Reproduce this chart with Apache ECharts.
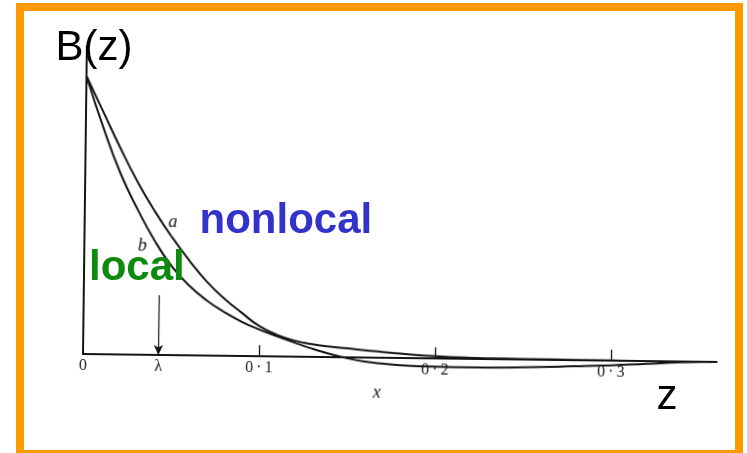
<!DOCTYPE html>
<html>
<head>
<meta charset="utf-8">
<script src="https://cdn.jsdelivr.net/npm/echarts@6/dist/echarts.min.js"></script>
<style>
  html, body { margin: 0; padding: 0; background: #ffffff; }
  #stage { position: relative; width: 747px; height: 453px; overflow: hidden; }
  #plot, #over { position: absolute; left: 0; top: 0; width: 747px; height: 453px; }
  /* the scanned figure sits very slightly tilted */
  #plot { transform-origin: 83px 354px; transform: rotate(0.72deg); }
  #over { pointer-events: none; }
</style>
</head>
<body>
<div id="stage">
  <div id="plot"></div>
  <div id="over"></div>
</div>
<script>
// sample positions along the axis
const xValues = [0, 0.01, 0.02, 0.03, 0.04, 0.05, 0.06, 0.07, 0.08, 0.09, 0.10, 0.11, 0.12,
                 0.13, 0.14, 0.15, 0.16, 0.17, 0.18, 0.20, 0.22, 0.25, 0.28, 0.30, 0.32, 0.34, 0.36];
// curve a (nonlocal)
const aValues = [1.0, 0.87, 0.74, 0.62, 0.515, 0.422, 0.339, 0.265, 0.205, 0.155, 0.108, 0.078, 0.058,
                 0.046, 0.038, 0.032, 0.026, 0.021, 0.016, 0.008, 0.004, 0.002, 0.001, 0.0006, 0.0003, 0.0001, 0];
// curve b (local)
const bValues = [1.0, 0.815, 0.652, 0.523, 0.41, 0.318, 0.25, 0.198, 0.157, 0.123, 0.096, 0.073, 0.051,
                 0.03, 0.012, -0.003, -0.014, -0.021, -0.026, -0.030, -0.031, -0.028, -0.022, -0.017, -0.010, -0.003, 0];
// axis tick labels
const tickValues = [0, 0.0428, 0.1, 0.2, 0.3];
const tickLabels = ['0', 'λ', '0\u2009·\u20091', '0\u2009·\u20092', '0\u2009·\u20093'];
const majorTicks = [0.1, 0.2, 0.3];
// position of the λ arrow
const lambdaX = 0.0428;
const lambdaArrowTop = 0.215;

const ink = '#141414';
const serif = '"Liberation Serif", "DejaVu Serif", serif';
const sans = '"Liberation Sans", Arial, sans-serif';

const pairs = vals => xValues.map((x, i) => [x, vals[i]]);

const plot = echarts.init(document.getElementById('plot'), null, { renderer: 'canvas' });
plot.setOption({
  animation: false,
  backgroundColor: 'transparent',
  grid: { left: 83, right: 30.4, top: 46, bottom: 99 },
  xAxis: {
    type: 'value', min: 0, max: 0.36,
    axisLine: { show: true, onZero: false, lineStyle: { color: ink, width: 2 } },
    axisTick: { show: true, inside: true, length: 11, customValues: majorTicks,
                lineStyle: { color: ink, width: 1.3 } },
    axisLabel: {
      show: true, margin: 4, customValues: tickValues,
      fontFamily: serif, fontSize: 16, color: '#1a1a1a',
      formatter: v => {
        let best = 0;
        tickValues.forEach((t, i) => { if (Math.abs(t - v) < Math.abs(tickValues[best] - v)) best = i; });
        return tickLabels[best];
      }
    },
    splitLine: { show: false }
  },
  yAxis: {
    type: 'value', min: 0, max: 1.108,
    axisLine: { show: true, lineStyle: { color: ink, width: 2 } },
    axisTick: { show: false }, axisLabel: { show: false }, splitLine: { show: false }
  },
  series: [
    {
      name: 'a', type: 'line', data: pairs(aValues), clip: false,
      showSymbol: false, symbol: 'none', smooth: 0.5,
      lineStyle: { color: ink, width: 2 }
    },
    {
      name: 'b', type: 'line', data: pairs(bValues), clip: false,
      showSymbol: false, symbol: 'none', smooth: 0.5,
      lineStyle: { color: ink, width: 2 },
      markLine: {
        silent: true, symbol: ['none', 'arrow'], symbolSize: [7, 10],
        label: { show: false },
        lineStyle: { color: ink, width: 1.2, type: 'solid' },
        data: [[{ coord: [lambdaX, lambdaArrowTop] }, { coord: [lambdaX, 0] }]]
      }
    }
  ]
});

// italic letters naming the curves and the abscissa
const placeText = (text, x, y, size) => {
  const p = plot.convertToPixel({ gridIndex: 0 }, [x, y]);
  return {
    type: 'text', x: p[0], y: p[1],
    style: { text, fill: ink, font: 'italic ' + size + 'px ' + serif, align: 'center', verticalAlign: 'middle' }
  };
};
plot.setOption({
  graphic: [
    placeText('a', 0.0502, 0.479, 18),
    placeText('b', 0.0330, 0.391, 18),
    placeText('x', 0.1672, -0.128, 18)
  ]
});

// frame and presentation labels
const over = echarts.init(document.getElementById('over'), null, { renderer: 'canvas' });
over.setOption({
  animation: false,
  backgroundColor: 'transparent',
  graphic: [
    { type: 'rect', shape: { x: 20, y: 7, width: 719, height: 447 },
      style: { fill: 'none', stroke: '#FF9900', lineWidth: 8 } },
    { type: 'text', x: 55.5, y: 48,
      style: { text: 'B(z)', fill: '#000', font: '42px ' + sans, verticalAlign: 'middle' } },
    { type: 'text', x: 199.5, y: 221.5,
      style: { text: 'nonlocal', fill: '#3333CC', font: 'bold 42px ' + sans, verticalAlign: 'middle' } },
    { type: 'text', x: 89, y: 268,
      style: { text: 'local', fill: '#0E8A0E', font: 'bold 42px ' + sans, verticalAlign: 'middle' } },
    { type: 'text', x: 656.5, y: 397,
      style: { text: 'z', fill: '#000', font: '42px ' + sans, verticalAlign: 'middle' } }
  ]
});
</script>
</body>
</html>
